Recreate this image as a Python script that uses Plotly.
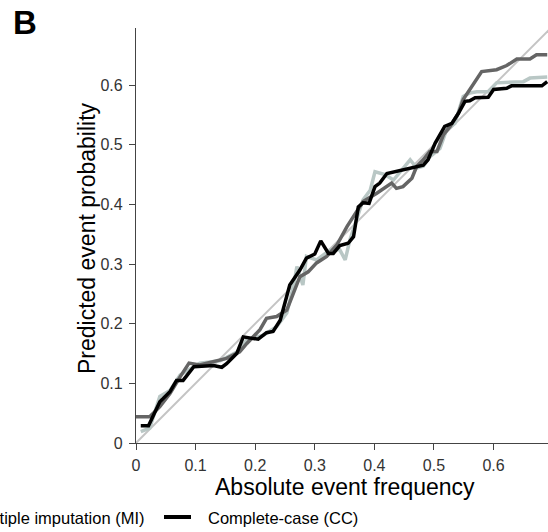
import plotly.graph_objects as go

# Complete-case (CC) - black
cc_x = [0.008, 0.021, 0.040, 0.057, 0.068, 0.079, 0.097, 0.130, 0.144, 0.152, 0.169, 0.180,
        0.205, 0.219, 0.230, 0.242, 0.258, 0.275, 0.286, 0.300, 0.310, 0.323, 0.331, 0.342,
        0.356, 0.365, 0.373, 0.381, 0.391, 0.401, 0.409, 0.421, 0.482, 0.490, 0.502, 0.518,
        0.530, 0.541, 0.552, 0.560, 0.569, 0.591, 0.600, 0.622, 0.630, 0.681, 0.690]
cc_y = [0.029, 0.029, 0.069, 0.086, 0.105, 0.105, 0.128, 0.130, 0.127, 0.133, 0.150, 0.178,
        0.174, 0.185, 0.187, 0.206, 0.265, 0.290, 0.310, 0.317, 0.339, 0.318, 0.318, 0.331,
        0.335, 0.346, 0.396, 0.403, 0.402, 0.430, 0.436, 0.452, 0.466, 0.475, 0.503, 0.531,
        0.536, 0.553, 0.573, 0.574, 0.579, 0.580, 0.593, 0.595, 0.599, 0.599, 0.606]

# Multiple imputation (MI) - dark gray
mi_x = [0.000, 0.023, 0.040, 0.057, 0.074, 0.089, 0.107, 0.141, 0.152, 0.174, 0.186, 0.208,
        0.219, 0.236, 0.253, 0.264, 0.275, 0.289, 0.303, 0.320, 0.337, 0.354, 0.381, 0.404,
        0.429, 0.437, 0.448, 0.463, 0.471, 0.482, 0.493, 0.505, 0.516, 0.527, 0.541, 0.549,
        0.563, 0.580, 0.605, 0.622, 0.639, 0.661, 0.672, 0.690]
mi_y = [0.044, 0.044, 0.061, 0.083, 0.111, 0.134, 0.131, 0.140, 0.142, 0.153, 0.167, 0.190,
        0.209, 0.212, 0.223, 0.251, 0.279, 0.287, 0.302, 0.313, 0.332, 0.363, 0.405, 0.419,
        0.436, 0.427, 0.430, 0.444, 0.464, 0.475, 0.489, 0.489, 0.517, 0.531, 0.553, 0.576,
        0.598, 0.623, 0.626, 0.633, 0.644, 0.644, 0.651, 0.651]

# Third series - light gray-green
fd_x = [0.008, 0.023, 0.040, 0.057, 0.074, 0.107, 0.141, 0.174, 0.186, 0.214, 0.236, 0.253,
        0.264, 0.270, 0.280, 0.286, 0.303, 0.326, 0.342, 0.351, 0.359, 0.370, 0.381, 0.393,
        0.401, 0.418, 0.432, 0.460, 0.471, 0.482, 0.493, 0.510, 0.521, 0.535, 0.549, 0.560,
        0.572, 0.591, 0.605, 0.650, 0.661, 0.690]
fd_y = [0.019, 0.025, 0.078, 0.088, 0.114, 0.134, 0.138, 0.155, 0.173, 0.181, 0.195, 0.218,
        0.262, 0.296, 0.265, 0.313, 0.307, 0.324, 0.324, 0.307, 0.341, 0.374, 0.408, 0.424,
        0.455, 0.450, 0.441, 0.475, 0.461, 0.464, 0.480, 0.494, 0.525, 0.536, 0.581, 0.587,
        0.589, 0.589, 0.604, 0.606, 0.612, 0.614]

diag = [0, 0.75]
tick_vals = [0, 0.1, 0.2, 0.3, 0.4, 0.5, 0.6]
tick_text = ["0", "0.1", "0.2", "0.3", "0.4", "0.5", "0.6"]

font = "Liberation Sans, Arial"

fig = go.Figure()
fig.add_trace(go.Scatter(x=diag, y=diag, mode="lines",
                         line=dict(color="#c4c4c4", width=2), showlegend=False))
fig.add_trace(go.Scatter(x=fd_x, y=fd_y, mode="lines",
                         line=dict(color="#b9c7c5", width=3.5), showlegend=False))
fig.add_trace(go.Scatter(x=mi_x, y=mi_y, mode="lines",
                         line=dict(color="#656565", width=3.5), showlegend=False))
fig.add_trace(go.Scatter(x=cc_x, y=cc_y, mode="lines",
                         line=dict(color="#000000", width=3.5), showlegend=False))

axis_common = dict(showgrid=False, zeroline=False, showline=True, linecolor="#444444",
                   linewidth=1.2, ticks="outside", ticklen=6, tickcolor="#444444",
                   tickwidth=1.2, tickvals=tick_vals, ticktext=tick_text,
                   tickfont=dict(family=font, size=16, color="#333333"))

fig.update_xaxes(range=[0, 0.6913], ticklabelstandoff=2, **axis_common)
fig.update_yaxes(range=[0, 0.696], ticklabelstandoff=3, **axis_common)

L, T, W, H = 136, 28, 412, 415
FW, FH = 548, 532

def px(xs):
    return (xs - L) / W

def py(ys):
    return (T + H - ys) / H

annotations = [
    dict(text="<b>B</b>", x=px(24.5), y=py(22), xanchor="center", yanchor="middle",
         font=dict(family=font, size=33, color="black")),
    dict(text="Predicted event probability", x=px(87), y=py(238), textangle=-90,
         xanchor="center", yanchor="middle", font=dict(family=font, size=23, color="black")),
    dict(text="Absolute event frequency", x=px(345), y=py(487),
         xanchor="center", yanchor="middle", font=dict(family=font, size=23, color="black")),
    dict(text="Multiple imputation (MI)", x=px(146), y=py(518),
         xanchor="right", yanchor="middle", font=dict(family=font, size=16.5, color="black")),
    dict(text="Complete-case (CC)", x=px(206), y=py(518),
         xanchor="left", yanchor="middle", font=dict(family=font, size=16.5, color="black")),
]
for a in annotations:
    a.update(xref="paper", yref="paper", showarrow=False)

fig.update_layout(
    width=FW, height=FH,
    margin=dict(l=L, r=FW - L - W, t=T, b=FH - T - H, pad=0),
    plot_bgcolor="white", paper_bgcolor="white",
    annotations=annotations,
    shapes=[dict(type="line", xref="paper", yref="paper", x0=px(164), x1=px(191),
                 y0=py(517), y1=py(517), line=dict(color="black", width=4))],
)

fig.write_html("out.html", config={"displayModeBar": False},
               post_script="document.body.style.margin='0';document.body.style.overflow='hidden';")
